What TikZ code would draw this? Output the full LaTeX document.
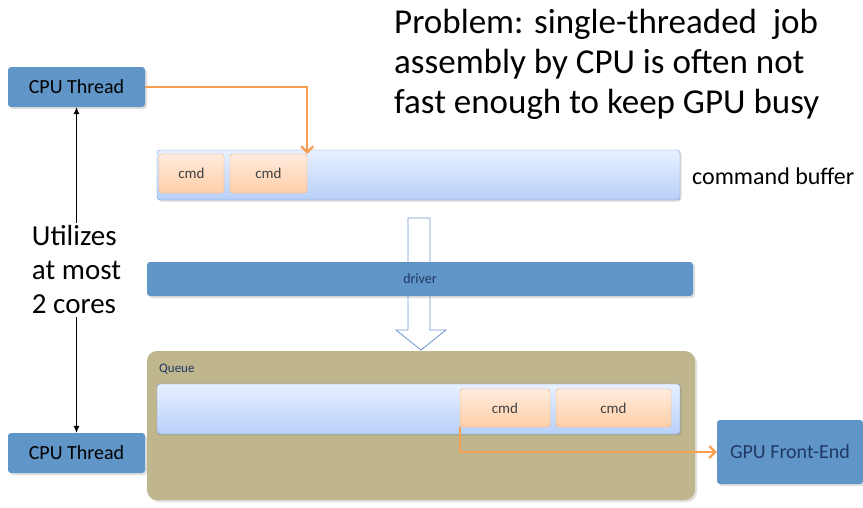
\documentclass[tikz,border=0pt]{standalone}
\usepackage{fontspec}
\setmainfont{Carlito}
\usetikzlibrary{arrows.meta,shadows}

\definecolor{steel}{RGB}{96,149,199}
\definecolor{navytext}{RGB}{31,56,100}
\definecolor{buftop}{RGB}{232,240,255}
\definecolor{bufbot}{RGB}{184,208,248}
\definecolor{bufline}{RGB}{110,152,208}
\definecolor{cmdtop}{RGB}{255,236,222}
\definecolor{cmdbot}{RGB}{255,206,168}
\definecolor{cmdline}{RGB}{248,176,112}
\definecolor{flow}{RGB}{248,160,80}
\definecolor{khaki}{RGB}{191,182,142}

\tikzset{
  threadbox/.style={fill=steel,rounded corners=3pt,minimum width=137,minimum height=40,
    inner sep=0pt,font=\fontsize{20}{22}\selectfont,
    drop shadow={shadow xshift=2pt,shadow yshift=-2pt,opacity=0.25}},
  bufbox/.style={draw=bufline,top color=buftop,bottom color=bufbot,rounded corners=3pt,
    minimum width=523,minimum height=50,inner sep=0pt,
    drop shadow={shadow xshift=1.5pt,shadow yshift=-1.5pt,opacity=0.25}},
  cmdbox/.style={draw=cmdline,top color=cmdtop,bottom color=cmdbot,rounded corners=3pt,
    minimum height=39,inner sep=0pt,text=black!75,font=\fontsize{15}{17}\selectfont},
  flowarrow/.style={draw=flow,line width=2.2pt,-{Straight Barb[length=6pt,width=12pt]}},
  hollowarrow/.style={draw=bufline,fill=white,line width=0.8pt}
}

\begin{document}
\begin{tikzpicture}[x=1pt,y=-1pt]
\useasboundingbox (0,0) rectangle (863,507);

\node[anchor=north west,align=left,font=\fontsize{35}{40}\selectfont,inner sep=0pt] (problem) at (394,9)
  {Problem: single-threaded\ \ job\\assembly by CPU is often not\\fast enough to keep GPU busy};

% hollow arrow, drawn before the driver bar
\draw[hollowarrow] (408,218) -- (430,218) -- (430,330) -- (446,330) -- (421,350)
  -- (396,330) -- (408,330) -- cycle;

\node[threadbox] (cpuA) at (76.5,87) {CPU Thread};
\node[threadbox] (cpuB) at (76.5,453) {CPU Thread};

\node[bufbox] (cbuf) at (418.5,175) {};
\node[cmdbox,minimum width=65] (c1) at (191.5,173.5) {cmd};
\node[cmdbox,minimum width=77] (c2) at (268.5,173.5) {cmd};
\node[anchor=west,font=\fontsize{24}{26}\selectfont,inner sep=0pt] (cblabel) at (692,176) {command buffer};

\node[threadbox,minimum width=546,minimum height=34,text=navytext,
  font=\fontsize{14}{16}\selectfont] (drv) at (420,279) {driver};

\node[fill=khaki,rounded corners=10pt,minimum width=548,minimum height=149,inner sep=0pt,
  drop shadow={shadow xshift=2pt,shadow yshift=-2pt,opacity=0.25}] (queue) at (421,425.5) {};
\node[anchor=west,text=navytext,font=\fontsize{13}{15}\selectfont,inner sep=0pt] (qlabel) at (159,369) {Queue};
\node[bufbox] (qbuf) at (418.5,409) {};
\node[cmdbox,minimum width=90,minimum height=38] (c3) at (505,408) {cmd};
\node[cmdbox,minimum width=115,minimum height=38] (c4) at (613.5,408) {cmd};

\node[threadbox,minimum width=146,minimum height=64,text=navytext] (gpu) at (790,452) {GPU Front-End};

\draw[flowarrow] (cpuA.east) -| (c2.north east);
\draw[flowarrow] (c3.south west) |- (gpu.west);

\draw[{Latex[length=7pt,width=6pt]}-{Latex[length=7pt,width=6pt]},line width=0.7pt] (cpuA) -- (cpuB)
  node[midway,fill=white,align=left,font=\fontsize{29}{34}\selectfont,inner sep=3pt] (cores)
  {Utilizes\\at most\\2 cores};
\end{tikzpicture}
\end{document}
